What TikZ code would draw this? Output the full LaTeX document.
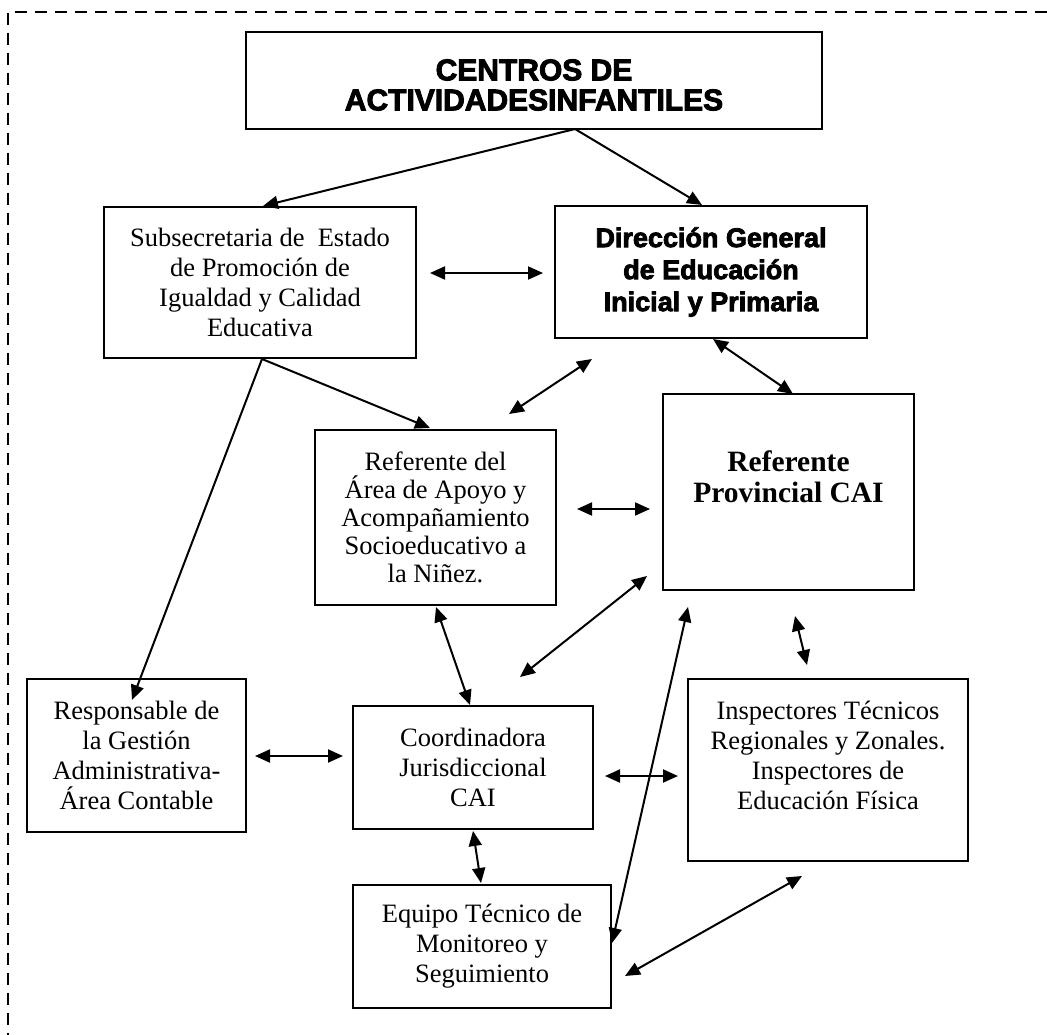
\documentclass[tikz,border=0pt]{standalone}
\usepackage{fontspec}
\setmainfont{Liberation Serif}
\newfontfamily\heavy{Liberation Sans}[BoldFeatures={FakeBold=3}]
\usetikzlibrary{arrows.meta}
\begin{document}
\begin{tikzpicture}[x=1pt,y=-1pt,
  box/.style={draw, line width=2pt, rectangle, inner sep=0pt, align=center,
    font=\fontsize{26.5}{30}\selectfont},
  tip/.tip={Triangle[length=15pt,width=13pt]},
  link/.style={line width=2pt, -tip},
  dlink/.style={line width=2pt, tip-tip},
  frame/.style={line width=1.6pt, dash pattern=on 12pt off 8pt}]
\useasboundingbox (0,0) rectangle (1047,1035);
\draw[frame] (1047,12) -- (8,12) -- (8,1035);

% boxes
\node[box, minimum width=576pt, minimum height=97pt] (title) at (534,80.5) {};
\node[align=center, inner sep=0pt,
  font=\heavy\bfseries\fontsize{30}{30}\selectfont] (titleT) at (534,85)
  {CENTROS DE\\ACTIVIDADESINFANTILES};
\node[box, minimum width=312pt, minimum height=151pt] (subsec) at (260,282.5)
  {Subsecretaria de\ \ Estado\\de Promoción de\\Igualdad y Calidad\\Educativa};
\node[box, minimum width=312pt, minimum height=132pt,
  font=\heavy\bfseries\fontsize{27}{32}\selectfont] (dir) at (711,272)
  {Dirección General\\de Educación\\Inicial y Primaria};
\node[box, minimum width=241pt, minimum height=175pt,
  font=\fontsize{26.5}{28}\selectfont] (refarea) at (435.5,517.5)
  {Referente del\\Área de Apoyo y\\Acompañamiento\\Socioeducativo a\\la Niñez.};
\node[box, minimum width=251pt, minimum height=196pt,
  font=\bfseries\fontsize{29.5}{31}\selectfont] (refprov) at (788.5,492)
  {Referente\\Provincial CAI\\\mbox{}};
\node[box, minimum width=219pt, minimum height=153pt] (resp) at (136.5,755.5)
  {Responsable de\\la Gestión\\Administrativa-\\Área Contable};
\node[box, minimum width=240pt, minimum height=123pt] (coord) at (473,767.5)
  {Coordinadora\\Jurisdiccional\\CAI};
\node[box, minimum width=258pt, minimum height=123pt] (equipo) at (482,946.5)
  {Equipo Técnico de\\Monitoreo y\\Seguimiento};
\node[box, minimum width=280pt, minimum height=182pt] (insp) at (828,770)
  {Inspectores Técnicos\\Regionales y Zonales.\\Inspectores de\\Educación Física\\\mbox{}};

% connector end points
\coordinate (tS) at (575,129);
\coordinate (subsecN) at (263,206);
\coordinate (dirN) at (702,205);
\coordinate (subsecE) at (430,273);
\coordinate (dirW) at (543,273);
\coordinate (subsecS) at (262,359);
\coordinate (refareaN) at (430,428);
\coordinate (respN) at (132,700);
\coordinate (refareaNE) at (509,414);
\coordinate (dirSW) at (592,359);
\coordinate (dirS) at (713,339);
\coordinate (refprovN) at (793,394);
\coordinate (refareaE) at (577,509);
\coordinate (refprovW) at (650,509);
\coordinate (refareaS) at (436,607);
\coordinate (coordN) at (470,705);
\coordinate (coordNE) at (520,677);
\coordinate (refprovSW) at (647,576);
\coordinate (equipoE) at (612,943);
\coordinate (refprovS) at (688,607);
\coordinate (refprovSE) at (795,616);
\coordinate (inspN) at (807,665);
\coordinate (respE) at (255,756);
\coordinate (coordW) at (343,756);
\coordinate (coordE) at (605,776);
\coordinate (inspW) at (678,776);
\coordinate (coordS) at (473,831);
\coordinate (equipoN) at (481,883);
\coordinate (equipoSE) at (625,976);
\coordinate (inspSW) at (802,876);

% connectors
\draw[link] (tS) -- (subsecN);
\draw[link] (tS) -- (dirN);
\draw[dlink] (subsecE) -- (dirW);
\draw[link] (subsecS) -- (refareaN);
\draw[link] (subsecS) -- (respN);
\draw[dlink] (refareaNE) -- (dirSW);
\draw[dlink] (dirS) -- (refprovN);
\draw[dlink] (refareaE) -- (refprovW);
\draw[dlink] (refareaS) -- (coordN);
\draw[dlink] (coordNE) -- (refprovSW);
\draw[dlink] (equipoE) -- (refprovS);
\draw[dlink] (refprovSE) -- (inspN);
\draw[dlink] (respE) -- (coordW);
\draw[dlink] (coordE) -- (inspW);
\draw[dlink] (coordS) -- (equipoN);
\draw[dlink] (equipoSE) -- (inspSW);
\end{tikzpicture}
\end{document}
